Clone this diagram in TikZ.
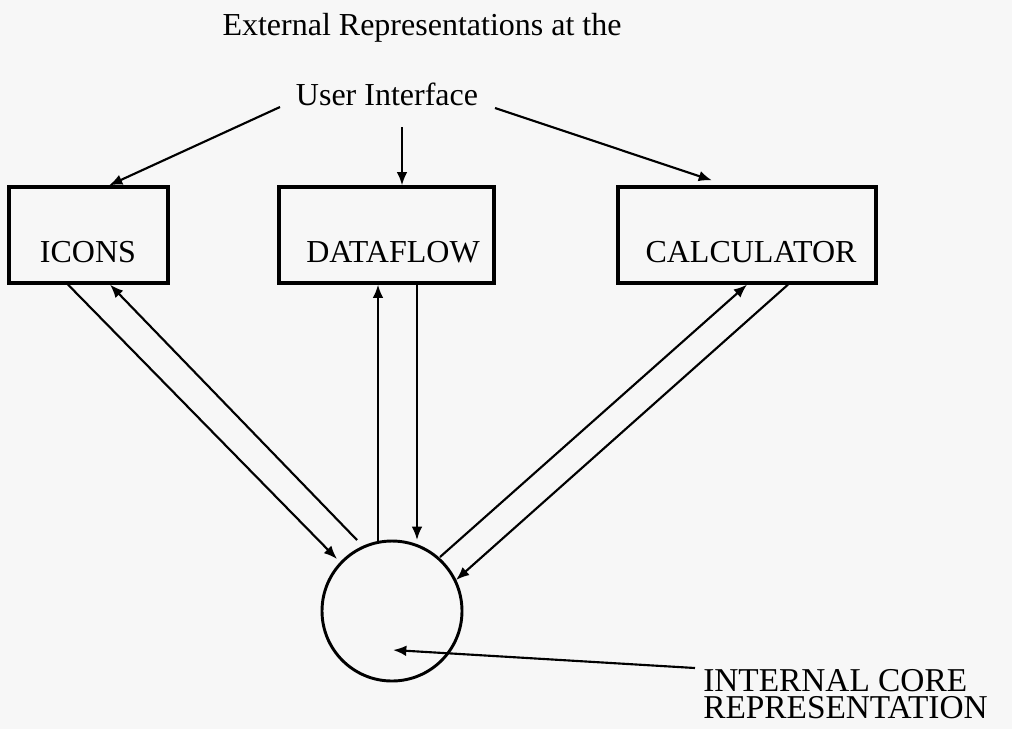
\documentclass[tikz,border=0pt]{standalone}
\usepackage{fontspec}
\setmainfont{Liberation Serif}
\usetikzlibrary{arrows.meta,calc}
\begin{document}
\begin{tikzpicture}[x=0.75pt,y=-0.75pt,
  box/.style={draw,line width=2.4pt,inner sep=0pt,minimum height=72pt},
  lbl/.style={font=\fontsize{24}{28}\selectfont,inner sep=0pt,anchor=base},
  arr/.style={line width=1.6pt,-{Latex[length=10pt,width=8pt]}}]
\fill[black!3] (0,0) rectangle (1012,729);
\useasboundingbox (0,0) rectangle (1012,729);

\node[lbl] (title) at (422,35) {External Representations at the};
\node[lbl] (ui) at (387,105) {User Interface};

\node[box,minimum width=119.25pt] (icons) at (88.5,235) {};
\node[box,minimum width=161.25pt] (dataflow) at (386.5,235) {};
\node[box,minimum width=193.5pt] (calc) at (747,235) {};
\node[lbl] (iconst) at (88,262) {ICONS};
\node[lbl] (dataflowt) at (393,262) {DATAFLOW};
\node[lbl] (calct) at (751,262) {CALCULATOR};

\node[draw,circle,line width=2.2pt,minimum size=105pt,inner sep=0pt] (core) at (392,611) {};

\node[font=\fontsize{25}{20}\selectfont,align=left,anchor=base west,inner sep=0pt] (intl) at (703,718) {INTERNAL CORE\\REPRESENTATION};
\coordinate (intend) at (695,668);

\draw[arr] ($(ui.base)+(-107,2)$) -- ($(icons.north)+(20.5,0)$);
\draw[arr] ($(ui.base)+(15,22)$) -- ($(dataflow.north)+(15.5,0)$);
\draw[arr] ($(ui.base)+(108,3)$) -- ($(calc.north)+(-35,-5)$);

\draw[arr] ($(icons.south)+(-20.5,0)$) -- ($(core.center)+(-55,-52)$);
\draw[arr] ($(core.center)+(-35,-71)$) -- ($(icons.south)+(21.5,0)$);

\draw[arr] ($(core.center)+(-14,-69)$) -- ($(dataflow.south)+(-8.5,0)$);
\draw[arr] ($(dataflow.south)+(30.5,0)$) -- ($(core.center)+(25,-71)$);

\draw[arr] ($(core.center)+(48,-54)$) -- (calc.south);
\draw[arr] ($(calc.south)+(41,0)$) -- ($(core.center)+(64,-31)$);

\draw[arr] (intend) -- ($(core.center)+(1,39)$);
\end{tikzpicture}
\end{document}
